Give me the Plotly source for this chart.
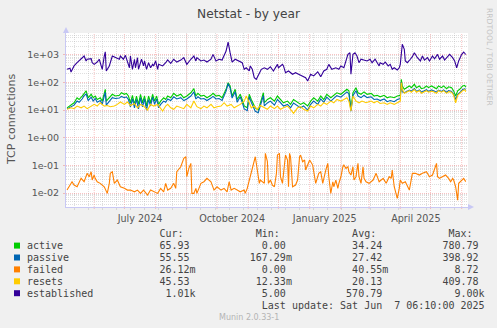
import plotly.graph_objects as go
import pandas as pd

# ---------------- data ----------------
START = pd.Timestamp("2024-05-04 00:00")
END = pd.Timestamp("2025-06-07 06:10")

EST_DAY = [1,4,5,8,11,15,18,20,21,25,26,28,31,33,34,36,38,39,40,43,46,49,53,54,57,59,61,63,64,66,
           68,69,71,72,75,77,78,80,82,84,86,87,89,91,92,96,99,101,104,107,110,114,117,119,120,124,127,129,130,134,
           137,140,144,146,149,152,155,159,161,163,165,168,172,175,177,179,182,183,185,187,189,192,194,197,200,203,206,210,211,215,
           216,218,221,225,228,231,235,238,240,243,246,250,253,256,259,261,264,268,271,273,276,279,280,282,283,285,287,289,291,293,
           296,299,302,304,307,309,311,312,315,317,320,322,324,326,329,331,332,334,336,337,339,342,344,346,349,352,354,356,359,361,
           364,366,369,371,374,376,379,381,384,386,388,390,393,395,397]
EST_VAL = [295,320,235,390,510,680,890,590,680,710,510,445,540,680,510,295,890,1260,257,390,890,775,680,890,680,940,590,335,890,295,
           680,335,775,295,680,390,590,295,510,335,445,390,590,295,445,390,510,640,485,680,540,635,775,510,445,680,890,590,775,590,
           635,540,680,1020,590,680,635,1350,2800,1170,540,680,590,510,295,335,257,390,295,147,128,222,295,335,295,365,257,445,335,445,
           390,222,257,195,222,195,170,147,111,195,170,240,160,257,295,445,295,335,295,390,335,680,1020,1170,195,1020,1170,890,510,680,
           650,590,680,510,680,540,390,510,445,540,390,445,295,335,280,335,445,2350,1550,590,510,680,840,1170,775,590,890,635,775,590,
           890,710,1020,680,890,635,840,1020,775,590,335,590,1020,1240,1010]

ACT_DAY = [1,5,8,11,13,16,18,20,22,25,27,29,31,34,36,38,39,40,43,46,49,53,55,58,60,62,64,66,68,70,
           72,74,76,78,80,82,84,86,88,90,92,94,97,99,101,104,107,110,114,117,120,124,127,129,131,134,137,140,144,146,
           149,152,155,159,161,163,165,168,170,173,175,177,180,182,184,186,188,191,193,196,197,200,203,207,210,213,216,220,223,226,
           230,233,236,240,243,246,250,253,256,259,263,266,269,273,276,279,281,283,285,288,290,293,296,299,303,306,309,312,316,319,
           322,326,329,332,333,334,336,338,341,343,346,348,351,353,356,358,360,363,365,368,370,373,375,378,380,383,385,387,389,391,
           394,396,397]
ACT_VAL = [12,16,18.3,27.7,24,32,42,49,27.7,37,27.7,32,24,27.7,21,42,56,21,27.7,37,32,34,42,37,40,32,18.3,34,16,32,
           16,37,18.3,32,14,32,18.3,37,21,32,16,21,27.7,24,32,27.7,40,32,37,27.7,32,42,59,32,40,32,34,27.7,34,40,
           32,34,27.7,56,97,74,32,56,24,37,24,14,12,37,24,16,12,10,18.3,42,18.3,24,27.7,21,32,24,18.3,21,16,24,
           18.3,16,18.3,14,21,27.7,21,32,24,37,27.7,34,42,37,45,56,49,10.6,42,64,42,37,45,37,40,32,34,30,34,27.7,
           30,27.7,32,34,128,74,56,64,74,64,85,64,74,59,64,74,64,74,69,59,74,64,74,59,69,64,49,32,49,56,
           74,78,66]

PAS_DAY = ACT_DAY
PAS_VAL = [11,13,15,21,19,25,33,38,22,29,21,26,19,22,16,32,44,15,21,28,26,27,31,28,30,24,13,26,12,24,
           11,28,13,25,10,24,14,29,16,25,12,16,21,19,25,22,30,25,28,22,25,32,45,25,30,25,26,22,27,31,
           25,26,22,48,90,62,27,46,19,30,19,11,9.5,30,19,13,9,8,14,33,14,18,21,15,24,18,14,16,12,18,
           14,12,14,10,16,21,16,25,19,29,21,27,33,29,36,45,38,9,33,50,32,28,34,28,30,24,25,22,25,20,
           22,20,24,26,100,45,42,47,52,48,60,47,53,44,48,54,47,53,50,44,52,47,53,44,50,47,37,24,37,42,
           55,58,55.55]

RES_DAY = [1,5,8,11,15,18,21,25,28,31,34,38,41,44,48,51,54,58,61,64,68,71,74,77,81,84,87,91,94,96,
           99,101,104,107,110,114,117,120,124,127,130,134,137,140,144,147,150,154,157,160,164,167,170,173,177,179,182,184,187,190,
           193,197,200,203,207,210,213,216,220,223,226,230,233,236,240,243,246,250,253,256,259,263,266,269,273,276,279,281,283,285,
           288,291,294,298,303,306,309,312,316,319,322,326,329,332,333,334,336,338,341,343,346,348,351,353,356,358,360,363,365,368,
           370,373,375,378,380,383,385,387,389,391,394,396,397]
RES_VAL = [10.6,12,11.2,13.9,12,13.9,11.2,13.9,16,13.9,18.3,13.9,14.6,13.2,13.9,16,19.5,16,19.5,14.6,17.3,12,16,13.9,10,16,13.9,16,12,9.2,
           13.9,16,12,10.6,13.9,12,11.2,16,12,21,13.2,11.2,13.9,12,16,12,13.2,13.9,18.3,13.9,16,12,13.9,16,21,32,18.3,12,13.9,10.6,
           14.6,12,10.6,13.9,11.2,13.9,10.6,12,13.9,10.6,7.6,12,13.2,10.6,9.2,13.9,12,16,13.9,18.3,16,21,18.3,24,21,24,27.7,21,9.2,32,
           21,18.3,21,18.3,21,18.3,21,17.3,18.3,16,18.3,16,18.3,21,97,56,40,44,50,44,55,44,50,40,44,50,44,48,46,40,
           50,44,50,40,46,44,34,18.3,34,40,50,55,45.5]

FAIL_DAY = [1,3,6,8,11,15,18,21,23,25,26,28,29,31,34,38,41,43,44,46,48,51,54,58,61,64,68,71,74,77,
            81,84,87,91,94,97,99,101,104,107,109,110,114,117,119,120,122,124,125,127,129,130,134,137,140,144,147,150,154,157,
            160,162,164,167,170,173,177,178,180,183,185,187,188,190,192,193,195,197,198,200,201,203,205,207,209,210,212,213,215,217,
            218,220,221,222,223,225,228,230,232,233,235,237,238,240,242,245,248,250,251,253,255,258,260,261,263,265,266,268,270,271,
            273,275,276,278,280,281,283,285,286,288,290,291,293,295,296,298,301,305,308,311,315,318,321,323,324,326,327,329,331,332,
            334,337,341,344,347,351,354,358,361,364,368,369,371,374,377,380,382,384,385,387,389,390,394,395,397]
FAIL_VAL = [0.0129,0.017,0.0258,0.0196,0.017,0.0342,0.0258,0.0519,0.0391,0.0593,0.0297,0.045,0.0342,0.0258,0.0226,0.017,0.0098,0.0226,0.0519,0.0593,
            0.0226,0.0297,0.017,0.0149,0.0129,0.0129,0.0112,0.0129,0.0098,0.0129,0.0085,0.0129,0.0112,0.0098,0.0149,0.0112,0.0226,0.0129,0.0149,0.0226,
            0.0149,0.0593,0.0897,0.18,0.206,0.0391,0.0785,0.119,0.0098,0.0098,0.0149,0.0098,0.0226,0.0258,0.0342,0.0258,0.0129,0.017,0.0129,0.0149,
            0.0112,0.0258,0.0129,0.0149,0.0129,0.0112,0.0129,0.0098,0.0149,0.0391,0.0897,0.136,0.206,0.0682,0.0226,0.0297,0.0258,0.0226,0.273,0.14,
            0.0226,0.0297,0.0196,0.017,0.0519,0.237,0.273,0.0391,0.0226,0.119,0.237,0.157,0.017,0.273,0.206,0.017,0.0196,0.0297,0.206,0.237,
            0.136,0.157,0.0682,0.103,0.157,0.103,0.0226,0.0391,0.0519,0.0593,0.0226,0.0682,0.119,0.0391,0.0098,0.0258,0.017,0.0297,0.0149,0.0226,
            0.0391,0.0897,0.103,0.0785,0.0897,0.0593,0.045,0.0897,0.0297,0.0391,0.119,0.0391,0.0226,0.0897,0.0342,0.0258,0.0226,0.0297,0.0519,0.0258,
            0.0342,0.0226,0.0391,0.0342,0.0682,0.017,0.0129,0.0065,0.0149,0.0297,0.0226,0.0258,0.0129,0.0519,0.0519,0.045,0.0519,0.0593,0.0391,0.045,
            0.119,0.0391,0.0342,0.0391,0.045,0.0342,0.0258,0.0342,0.0297,0.017,0.0056,0.0226,0.0297,0.0342,0.0261]

SERIES = ["active", "passive", "failed", "resets", "established"]
COLORS = ["#00CC00", "#0066B3", "#FF8000", "#FFCC00", "#330099"]
CUR = ["65.93", "55.55", "26.12m", "45.53", "1.01k"]
MIN = ["0.00", "167.29m", "0.00", "12.33m", "5.00"]
AVG = ["34.24", "27.42", "40.55m", "20.13", "570.79"]
MAX = ["780.79", "398.92", "8.72", "409.78", "9.00k"]
Y_TICKS = [0.01, 0.1, 1, 10, 100, 1000]
Y_TICKTEXT = ["1e-02", "1e-01", "1e+00", "1e+01", "1e+02", "1e+03"]
X_LABEL_DATES = ["2024-07-16 12:00", "2024-10-16", "2025-01-16", "2025-04-16 12:00"]
X_LABELS = ["July 2024", "October 2024", "January 2025", "April 2025"]
TITLE = "Netstat - by year"
LAST_UPDATE = "Last update: Sat Jun  7 06:10:00 2025"

pairs = [(ACT_DAY, ACT_VAL), (PAS_DAY, PAS_VAL), (FAIL_DAY, FAIL_VAL), (RES_DAY, RES_VAL), (EST_DAY, EST_VAL)]
for d, v in pairs:
    assert len(d) == len(v), (len(d), len(v))

# ---------------- geometry helpers ----------------
W, H = 497, 328
L, R, T, B = 66, 468, 33, 207


def px(x):
    return (x - L) / (R - L)


def py(y):
    return (B - y) / (B - T)


def to_dates(days):
    return [START + pd.Timedelta(days=d) for d in days]


fig = go.Figure()
for name, color, (d, v) in zip(SERIES, COLORS, pairs):
    fig.add_trace(go.Scatter(x=to_dates(d), y=v, mode="lines", name=name,
                             line=dict(color=color, width=1.1), hoverinfo="skip"))

GRID_MINOR = "rgba(170,170,170,0.38)"
GRID_MAJOR = "rgba(240,110,110,0.42)"
AXIS_COL = "#c8c8f4"
TXT = "#555555"

minor_y = [k * 10.0 ** e for e in range(-3, 4) for k in range(2, 10)]

fig.update_layout(
    width=W, height=H,
    margin=dict(l=L, r=W - R, t=T, b=H - B),
    paper_bgcolor="#F0F0F0", plot_bgcolor="#FFFFFF",
    showlegend=False, hovermode=False,
    font=dict(family="DejaVu Sans", color=TXT),
    title=dict(text=TITLE, x=0.5, xref="container", xanchor="center",
               y=1 - 13.5 / H, yref="container", yanchor="middle",
               font=dict(size=12.2, color="#444444", family="DejaVu Sans")),
    xaxis=dict(
        type="date", range=[START, END],
        tickmode="array", tickvals=X_LABEL_DATES, ticktext=X_LABELS,
        ticks="", showgrid=False, zeroline=False,
        tickfont=dict(size=9.6, color=TXT),
        showline=True, linecolor=AXIS_COL, linewidth=1,
        ticklabelstandoff=2,
        minor=dict(dtick=14 * 86400000, tick0="2024-05-12", showgrid=True,
                   gridcolor=GRID_MINOR, griddash="1px,1px", gridwidth=1,
                   ticks="outside", ticklen=2, tickcolor=GRID_MINOR),
    ),
    yaxis=dict(
        type="log", range=[-2.5, 3.78],
        tickmode="array", tickvals=Y_TICKS, ticktext=Y_TICKTEXT,
        ticks="outside", ticklen=2, tickcolor=GRID_MAJOR,
        showgrid=True, gridcolor=GRID_MAJOR, griddash="1px,1px", gridwidth=1,
        zeroline=False, tickfont=dict(size=9.5, color=TXT),
        showline=True, linecolor=AXIS_COL, linewidth=1,
        ticklabelstandoff=2,
        minor=dict(tickvals=minor_y, showgrid=True, gridcolor=GRID_MINOR,
                   griddash="1px,1px", gridwidth=1, ticks=""),
    ),
)

shapes = []
# month gridlines (red)
for m in pd.date_range("2024-06-01", "2025-06-01", freq="MS"):
    shapes.append(dict(type="line", xref="x", yref="paper", x0=m, x1=m, y0=-2 / 174, y1=1,
                       line=dict(color=GRID_MAJOR, width=1, dash="1px,1px"), layer="between"))
# axis arrows
shapes.append(dict(type="path", xref="paper", yref="paper",
                   path=f"M {px(63)},{py(33)} L {px(69)},{py(33)} L {px(66)},{py(27)} Z",
                   fillcolor=AXIS_COL, line=dict(width=0)))
shapes.append(dict(type="path", xref="paper", yref="paper",
                   path=f"M {px(468)},{py(204)} L {px(468)},{py(210)} L {px(474)},{py(207)} Z",
                   fillcolor=AXIS_COL, line=dict(width=0)))

annotations = []
# y-axis title
annotations.append(dict(text="TCP connections", x=px(11), y=py(120), xref="paper", yref="paper",
                        textangle=-90, showarrow=False, xanchor="center", yanchor="middle",
                        font=dict(size=11, color=TXT, family="DejaVu Sans")))
# rrdtool watermark
annotations.append(dict(text="RRDTOOL / TOBI OETIKER", x=px(490), y=py(57), xref="paper", yref="paper",
                        textangle=90, showarrow=False, xanchor="center", yanchor="middle",
                        font=dict(size=7.6, color="#c4c4c4", family="DejaVu Sans")))

# legend table (monospace columns)
COL_X0 = 26.7
NB = "\u00a0"


def build_row(label, vals, ends):
    buf = [" "] * 80
    for i, ch in enumerate(label):
        buf[i] = ch
    for val, end in zip(vals, ends):
        num = val.rstrip("mk")
        suf = val[len(num):]
        start = end - len(num)
        for i, ch in enumerate(num):
            buf[start + i] = ch
        for i, ch in enumerate(suf):
            buf[end + i] = ch
    return "".join(buf).rstrip().replace(" ", NB)


header = [" "] * 80
for txt, col in [("Cur:", 22), ("Min:", 38), ("Avg:", 54), ("Max:", 70)]:
    for i, ch in enumerate(txt):
        header[col + i] = ch
header_txt = "".join(header).rstrip().replace(" ", NB)

row_y = [233.7, 245.6, 257.5, 269.4, 281.3, 293.2, 305.1]
mono = dict(size=10, color="#444444", family="DejaVu Sans Mono")


def ann_left(text, y):
    return dict(text=text, x=px(COL_X0), y=py(y), xref="paper", yref="paper", showarrow=False,
                xanchor="left", yanchor="middle", borderpad=0, borderwidth=0, font=mono)


annotations.append(ann_left(header_txt, row_y[0]))
for i, name in enumerate(SERIES):
    txt = build_row(name, [CUR[i], MIN[i], AVG[i], MAX[i]], [27, 43, 59, 75])
    annotations.append(ann_left(txt, row_y[i + 1]))
    yc = row_y[i + 1]
    shapes.append(dict(type="rect", xref="paper", yref="paper",
                       x0=px(14), x1=px(20), y0=py(yc + 3), y1=py(yc - 3),
                       fillcolor=COLORS[i], line=dict(width=0)))
lu = [" "] * 80
for i, ch in enumerate(LAST_UPDATE):
    lu[39 + i] = ch
annotations.append(ann_left("".join(lu).rstrip().replace(" ", NB), row_y[6]))
annotations.append(dict(text="Munin 2.0.33-1", x=px(248.7), y=py(317.3), xref="paper", yref="paper",
                        showarrow=False, xanchor="center", yanchor="middle",
                        font=dict(size=8, color="#b4b4b4", family="DejaVu Sans")))

fig.update_layout(shapes=shapes, annotations=annotations)
fig.write_html("out.html")
